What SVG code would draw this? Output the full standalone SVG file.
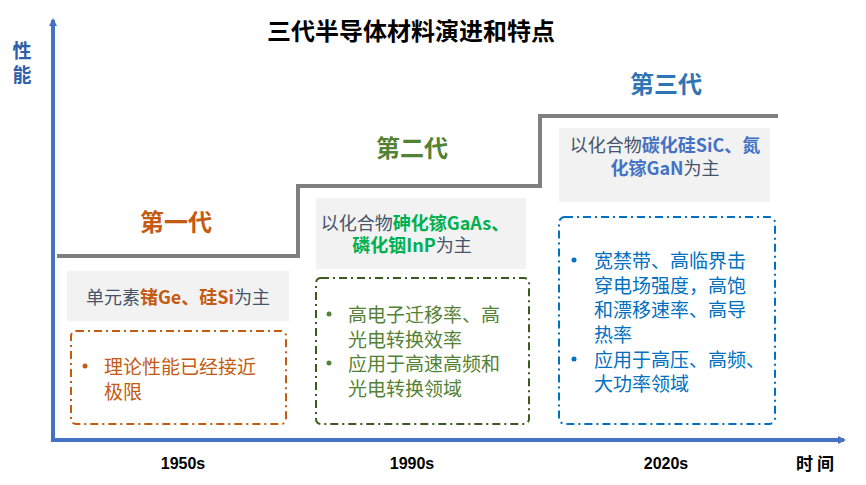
<svg xmlns="http://www.w3.org/2000/svg" width="866" height="485" viewBox="0 0 866 485">
<style>
text{font-family:"Noto Sans CJK SC","Liberation Sans",sans-serif}
.b{font-weight:bold}
.g{fill:#44546a}
.gb{fill:#f2f2f2}
.dash{fill:none;stroke-width:2;stroke-dasharray:8 4 2 4}
.yr{font-size:16px;font-weight:bold;fill:#000;text-anchor:middle;font-family:"Liberation Sans","Noto Sans CJK SC",sans-serif}
.bt{font-size:19px}
.m{text-anchor:middle}
</style>
<defs>
<marker id="ar" markerWidth="8" markerHeight="8" refX="6" refY="4" orient="auto" markerUnits="userSpaceOnUse"><path d="M0,0 L8,4 L0,8 z" fill="#4472c4"/></marker>
</defs>
<rect width="866" height="485" fill="#fff"/>
<g id="connectors">
<line x1="53" y1="440" x2="53" y2="20" stroke="#4472c4" stroke-width="4" marker-end="url(#ar)"/>
<line x1="51" y1="440" x2="844" y2="440" stroke="#4472c4" stroke-width="4" marker-end="url(#ar)"/>
<polyline points="57,256 298,256 298,186 540,186 540,116 778,116" fill="none" stroke="#7f7f7f" stroke-width="4"/>
</g>
<g id="title"><text x="411" y="40" class="b m" font-size="24" fill="#000">三代半导体材料演进和特点</text></g>
<g id="ylabel"><text x="22" y="58" class="b m" font-size="19" fill="#2e5fa8">性</text><text x="22" y="82" class="b m" font-size="19" fill="#2e5fa8">能</text></g>
<g id="xlabel"><text x="815" y="470" class="b m" font-size="17" fill="#000">时 间</text></g>
<g id="years">
<text x="183" y="469" class="yr">1950s</text>
<text x="412" y="469" class="yr">1990s</text>
<text x="666" y="469" class="yr">2020s</text>
</g>
<g id="gen1">
<text x="176" y="231" class="b m" font-size="24" fill="#c55a11">第一代</text>
<rect x="67" y="271" width="222" height="50" class="gb"/>
<text x="178" y="304" class="m" font-size="18"><tspan class="g">单元素</tspan><tspan class="b" fill="#c55a11">锗Ge、硅Si</tspan><tspan class="g">为主</tspan></text>
<rect x="71" y="331" width="215" height="93" rx="5" class="dash" stroke="#c55a11"/>
<g fill="#c55a11" class="bt"><circle cx="85" cy="366" r="2.5"/><text x="104" y="374">理论性能已经接近</text><text x="104" y="399">极限</text></g>
</g>
<g id="gen2">
<text x="412" y="157" class="b m" font-size="24" fill="#548235">第二代</text>
<rect x="316" y="198" width="210" height="71" class="gb"/>
<text x="415" y="230" class="m" font-size="18"><tspan class="g">以化合物</tspan><tspan class="b" fill="#00b050">砷化镓GaAs、</tspan></text>
<text x="412" y="252" class="m" font-size="18"><tspan class="b" fill="#00b050">磷化铟InP</tspan><tspan class="g">为主</tspan></text>
<rect x="316" y="278" width="213" height="146" rx="5" class="dash" stroke="#3a5a1f"/>
<g fill="#548235" class="bt"><circle cx="329" cy="314" r="2.5"/><text x="348" y="322">高电子迁移率、高</text><text x="348" y="347">光电转换效率</text><circle cx="329" cy="363" r="2.5"/><text x="348" y="371">应用于高速高频和</text><text x="348" y="396">光电转换领域</text></g>
</g>
<g id="gen3">
<text x="666" y="93" class="b m" font-size="24" fill="#2e75b6">第三代</text>
<rect x="559" y="128" width="211" height="74" class="gb"/>
<text x="665" y="152" class="m" font-size="18"><tspan class="g">以化合物</tspan><tspan class="b" fill="#4472c4">碳化硅SiC、氮</tspan></text>
<text x="665" y="175" class="m" font-size="18"><tspan class="b" fill="#4472c4">化镓GaN</tspan><tspan class="g">为主</tspan></text>
<rect x="559" y="217" width="216" height="207" rx="6" class="dash" stroke="#0070c0"/>
<g fill="#0070c0" class="bt"><circle cx="574" cy="260" r="2.5"/><text x="594" y="268">宽禁带、高临界击</text><text x="594" y="293">穿电场强度，高饱</text><text x="594" y="317">和漂移速率、高导</text><text x="594" y="342">热率</text><circle cx="574" cy="359" r="2.5"/><text x="594" y="367">应用于高压、高频、</text><text x="594" y="391">大功率领域</text></g>
</g>
</svg>
